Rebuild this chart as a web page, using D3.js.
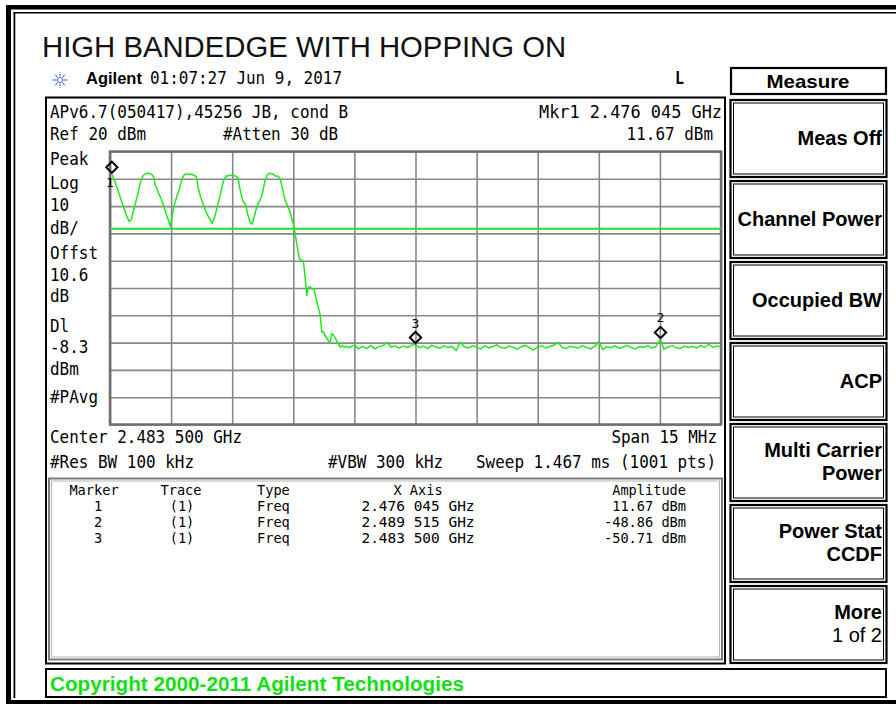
<!DOCTYPE html>
<html>
<head>
<meta charset="utf-8">
<script src="https://cdnjs.cloudflare.com/ajax/libs/d3/7.8.5/d3.min.js"></script>
<style>
  body { margin: 0; background: #fff; }
  svg { display: block; }
</style>
</head>
<body>
<svg></svg>
<script>
// sweep settings
let centerMHz = 2483.5, spanMHz = 15;
let refLevel = 20, dbPerDiv = 10, displayLine = -8.3;

// trace: offset from start frequency (MHz) and level (dBm)
let traceOffsetMHz = [
  0.00, 0.045, 0.12, 0.20, 0.28, 0.36, 0.42, 0.47, 0.52, 0.58, 0.64, 0.70, 0.76, 0.82, 0.88, 0.95,
  1.02, 1.08, 1.11, 1.15, 1.20, 1.26, 1.32, 1.38, 1.44, 1.48, 1.53, 1.58, 1.64, 1.70, 1.76, 1.82,
  1.88, 1.94, 2.00, 2.06, 2.12, 2.16, 2.22, 2.28, 2.34, 2.40, 2.46, 2.51, 2.56, 2.62, 2.68, 2.72,
  2.78, 2.84, 2.92, 3.00, 3.08, 3.14, 3.18, 3.24, 3.28, 3.33, 3.38, 3.44, 3.49, 3.54, 3.60, 3.64,
  3.68, 3.74, 3.80, 3.86, 3.92, 4.00, 4.06, 4.12, 4.18, 4.24, 4.30, 4.36, 4.42, 4.47, 4.50, 4.54,
  4.57, 4.60, 4.65, 4.70, 4.75, 4.79, 4.83, 4.87, 4.91, 4.95, 5.01, 5.07, 5.12, 5.16, 5.20, 5.24,
  5.28, 5.34, 5.40, 5.44, 5.48, 5.52, 5.57, 5.61, 5.65, 5.70, 5.75, 5.80, 5.85, 5.90, 5.96, 6.02,
  6.10, 6.2, 6.3, 6.4, 6.5, 6.6, 6.7, 6.8, 6.9, 7.0, 7.1, 7.2, 7.3, 7.4, 7.5, 7.6,
  7.7, 7.8, 7.9, 8.0, 8.1, 8.2, 8.3, 8.4, 8.5, 8.6, 8.7, 8.8, 8.9, 9.0, 9.1, 9.2,
  9.3, 9.4, 9.5, 9.6, 9.7, 9.8, 9.9, 10.0, 10.1, 10.2, 10.3, 10.4, 10.5, 10.6, 10.7, 10.8,
  10.9, 11.0, 11.1, 11.2, 11.3, 11.4, 11.5, 11.6, 11.7, 11.8, 11.9, 12.0, 12.1, 12.2, 12.3, 12.4,
  12.5, 12.6, 12.7, 12.8, 12.9, 13.0, 13.1, 13.2, 13.3, 13.4, 13.515, 13.6, 13.7, 13.8, 13.9, 14.0,
  14.1, 14.2, 14.3, 14.4, 14.5, 14.6, 14.7, 14.8, 14.9, 15.0
];
let traceDbm = [
  12.4, 11.67, 9.0, 5.5, 2.0, -1.5, -4.0, -5.6, -5.0, -1.5, 2.0, 5.5, 9.5, 11.3, 11.9, 12.0,
  11.7, 10.5, 7.5, 6.5, 4.5, 2.5, 0.0, -3.0, -5.5, -7.5, -3.5, 0.5, 3.5, 6.0, 9.5, 11.4,
  11.9, 11.6, 11.7, 11.3, 10.8, 7.0, 3.5, 1.0, -1.5, -3.5, -5.0, -6.4, -4.5, -1.0, 2.5, 5.0,
  9.0, 10.9, 11.2, 11.3, 11.0, 10.4, 7.0, 3.0, 1.5, 0.5, -3.0, -6.0, -6.6, -4.0, -0.5, 1.0,
  2.0, 4.5, 9.0, 11.5, 12.0, 11.8, 11.0, 11.0, 10.0, 6.0, 2.1, 0.0, -2.2, -5.0, -6.5, -9.6,
  -12.5, -15.1, -19.3, -19.6, -20.4, -26.0, -32.7, -29.7, -29.5, -30.3, -30.4, -34.6, -37.5, -40.0, -46.2, -46.0,
  -47.4, -48.8, -50.4, -46.8, -47.2, -48.0, -49.5, -50.4, -51.6, -51.2, -51.7, -51.4, -51.9, -51.5, -51.2, -51.0,
  -52.3, -51.4, -52.2, -51.0, -52.3, -51.5, -51.1, -49.9, -51.7, -51.2, -52.0, -51.3, -51.8, -51.0, -50.71, -51.9,
  -51.3, -52.2, -51.0, -51.6, -52.1, -51.2, -51.8, -51.4, -52.9, -49.8, -51.5, -52.0, -51.1, -51.7, -52.3, -51.2,
  -51.9, -51.4, -50.8, -51.8, -52.1, -51.3, -51.7, -52.4, -51.5, -51.0, -51.9, -52.7, -51.6, -51.2, -52.0, -51.4,
  -50.9, -49.9, -51.8, -52.2, -51.3, -51.7, -52.0, -51.1, -51.8, -52.3, -51.4, -49.7, -52.6, -51.5, -51.9, -51.2,
  -52.1, -51.6, -51.0, -51.9, -52.3, -51.4, -51.8, -51.1, -52.0, -51.5, -48.86, -52.4, -51.6, -51.1, -51.9, -52.2,
  -51.3, -51.8, -51.4, -52.0, -51.0, -51.7, -50.6, -51.8, -51.2, -51.6
];

// markers
let markerNames = ['1', '2', '3'];
let markerFreqGHz = [2.476045, 2.489515, 2.483500];
let markerAmp = [11.67, -48.86, -50.71];
let markerTrace = ['(1)', '(1)', '(1)'];
let markerType = ['Freq', 'Freq', 'Freq'];
let markerXText = ['2.476 045 GHz', '2.489 515 GHz', '2.483 500 GHz'];
let markerAmpText = ['11.67 dBm', '-48.86 dBm', '-50.71 dBm'];

let leftLabels = ['Peak', 'Log', '10', 'dB/', 'Offst', '10.6', 'dB', 'Dl', '-8.3', 'dBm', '#PAvg'];
let softkeys = [['Meas Off'], ['Channel Power'], ['Occupied BW'], ['ACP'],
                ['Multi Carrier', 'Power'], ['Power Stat', 'CCDF'], ['More', '1 of 2']];

let width = 896, height = 704;
let mono = "'DejaVu Sans Mono', 'Liberation Mono', monospace";
let sans = "'Liberation Sans', Arial, sans-serif";

let svg = d3.select('svg')
              .attr('width', width)
              .attr('height', height);

// the analyzer font is tall and narrow: big mono glyphs squeezed to a fixed pitch
function label(g, str, x, y, o) {
  o = o || {};
  let t = g.append('text')
            .attr('x', x)
            .attr('y', y)
            .attr('font-family', o.family || mono)
            .attr('font-size', o.size || 17.5)
            .attr('font-weight', o.weight || 'normal')
            .attr('fill', o.fill || '#000')
            .attr('text-anchor', o.anchor || 'start')
            .text(str);
  let len = o.len || (o.cw ? o.cw * str.length : (!o.family && !o.size ? 9.6 * str.length : 0));
  if (len) t.attr('textLength', len).attr('lengthAdjust', 'spacingAndGlyphs');
  return t;
}

// outer frame
let frame = svg.append('g');
frame.append('rect').attr('x', 6).attr('y', 5).attr('width', 5).attr('height', height - 5);
frame.append('rect').attr('x', 6).attr('y', 5).attr('width', width).attr('height', 4.5);
frame.append('rect').attr('x', 6).attr('y', 700).attr('width', width).attr('height', 4);
frame.append('rect').attr('x', 13.5).attr('y', 12).attr('width', 1.8).attr('height', 686);
frame.append('rect').attr('x', 13.5).attr('y', 12).attr('width', width).attr('height', 1.5);

// title and header line
label(svg, 'HIGH BANDEDGE WITH HOPPING ON', 42, 57, {family: sans, size: 29.3, fill: '#111'});

let star = svg.append('g').attr('transform', 'translate(60,80)');
d3.range(8).forEach(i => {
  let a = i * Math.PI / 4;
  star.append('line')
      .attr('x1', 2 * Math.cos(a)).attr('y1', 2 * Math.sin(a))
      .attr('x2', 7.5 * Math.cos(a)).attr('y2', 7.5 * Math.sin(a))
      .attr('stroke', '#2b4fd8')
      .attr('stroke-width', 1.3)
      .attr('stroke-dasharray', '1.5,1');
});
label(svg, 'Agilent', 86, 84, {family: sans, size: 16.5, weight: 'bold'});
label(svg, '01:07:27  Jun 9, 2017', 150, 84, {len: 192});
label(svg, 'L', 675, 84, {weight: 'bold', len: 9});

// screen box
svg.append('rect')
    .attr('x', 46).attr('y', 97.5)
    .attr('width', 679).attr('height', 566)
    .attr('fill', 'none')
    .attr('stroke', '#000')
    .attr('stroke-width', 2);

label(svg, 'APv6.7(050417),45256 JB, cond B', 50, 118, {len: 298});
label(svg, 'Mkr1  2.476 045 GHz', 722, 118, {anchor: 'end', len: 183});
label(svg, 'Ref 20 dBm', 50, 140);
label(svg, '#Atten 30 dB', 223, 140);
label(svg, '11.67 dBm', 713, 140, {anchor: 'end'});

let leftY = [165, 189, 211, 234, 259, 281, 302, 332, 353, 375, 403];
leftLabels.forEach((s, i) => label(svg, s, 50, leftY[i]));

// graticule
let startMHz = centerMHz - spanMHz / 2, stopMHz = centerMHz + spanMHz / 2;
let x = d3.scaleLinear().domain([startMHz, stopMHz]).range([110, 721]);
let y = d3.scaleLinear().domain([refLevel - 10 * dbPerDiv, refLevel]).range([424.5, 151.5]);
let xDivs = d3.range(11).map(i => startMHz + i * spanMHz / 10);
let yDivs = d3.range(11).map(i => refLevel - i * dbPerDiv);
let gh = y.range()[0] - y.range()[1], gw = x.range()[1] - x.range()[0];

let grid = svg.append('g');
grid.append('g')
    .attr('transform', `translate(0,${y.range()[0]})`)
    .call(d3.axisBottom(x).tickValues(xDivs).tickSize(-gh).tickFormat(''))
    .call(g => g.select('.domain').remove())
    .selectAll('line')
      .attr('stroke', '#888')
      .attr('stroke-width', 1.6);
grid.append('g')
    .attr('transform', `translate(${x.range()[0]},0)`)
    .call(d3.axisLeft(y).tickValues(yDivs).tickSize(-gw).tickFormat(''))
    .call(g => g.select('.domain').remove())
    .selectAll('line')
      .attr('stroke', '#888')
      .attr('stroke-width', 1.6);
grid.append('rect')
    .attr('x', x.range()[0]).attr('y', y.range()[1])
    .attr('width', gw).attr('height', gh)
    .attr('fill', 'none')
    .attr('stroke', '#6e6e6e')
    .attr('stroke-width', 2.5);

svg.append('clipPath').attr('id', 'clip')
    .append('rect')
      .attr('x', x.range()[0]).attr('y', y.range()[1] - 2)
      .attr('width', gw).attr('height', gh + 2);

// display line
svg.append('line')
    .attr('x1', x(startMHz)).attr('x2', x(stopMHz))
    .attr('y1', y(displayLine)).attr('y2', y(displayLine))
    .attr('stroke', '#2fd82f')
    .attr('stroke-width', 2);

// trace
let line = d3.line()
              .x(d => x(startMHz + d[0]))
              .y(d => y(d[1]));
svg.append('path')
    .datum(d3.zip(traceOffsetMHz, traceDbm))
    .attr('clip-path', 'url(#clip)')
    .attr('d', line)
    .attr('fill', 'none')
    .attr('stroke', '#1ee81e')
    .attr('stroke-width', 1.5)
    .attr('stroke-linejoin', 'round');

// markers
let markers = svg.append('g');
markerNames.forEach((m, i) => {
  let cx = x(markerFreqGHz[i] * 1000), cy = y(markerAmp[i]) - 7;
  markers.append('path')
      .attr('d', d3.symbol(d3.symbolSquare, 64)())
      .attr('transform', `translate(${cx},${cy}) rotate(45)`)
      .attr('fill', 'none')
      .attr('stroke', '#000')
      .attr('stroke-width', 2);
  let below = cy < y(refLevel) + 30;
  label(markers, m, below ? cx - 2 : cx, below ? cy + 20 : cy - 10, {size: 13, anchor: 'middle'});
});

// sweep info
label(svg, 'Center 2.483 500 GHz', 50, 443);
label(svg, 'Span 15 MHz', 717, 443, {anchor: 'end'});
label(svg, '#Res BW 100 kHz', 50, 468);
label(svg, '#VBW 300 kHz', 328, 468);
label(svg, 'Sweep 1.467 ms (1001 pts)', 716, 468, {anchor: 'end'});

// marker table
let table = svg.append('g');
table.append('rect')
    .attr('x', 49).attr('y', 478.5).attr('width', 673).attr('height', 181)
    .attr('fill', 'none').attr('stroke', '#7a7a7a').attr('stroke-width', 2);
table.append('rect')
    .attr('x', 51.5).attr('y', 481).attr('width', 668).attr('height', 176)
    .attr('fill', 'none').attr('stroke', '#b4b4b4').attr('stroke-width', 1);

let tf = {size: 14.5, cw: 8.2};
label(table, 'Marker', 94, 495, Object.assign({anchor: 'middle'}, tf));
label(table, 'Trace', 181, 495, Object.assign({anchor: 'middle'}, tf));
label(table, 'Type', 257, 495, tf);
label(table, 'X Axis', 418, 495, Object.assign({anchor: 'middle'}, tf));
label(table, 'Amplitude', 686, 495, Object.assign({anchor: 'end'}, tf));
markerNames.forEach((m, i) => {
  let ty = 511 + i * 16;
  label(table, m, 98, ty, Object.assign({anchor: 'middle'}, tf));
  label(table, markerTrace[i], 182, ty, Object.assign({anchor: 'middle'}, tf));
  label(table, markerType[i], 257, ty, tf);
  label(table, markerXText[i], 418, ty, Object.assign({anchor: 'middle'}, tf, {cw: 8.7}));
  label(table, markerAmpText[i], 686, ty, Object.assign({anchor: 'end'}, tf));
});

// softkeys
let keys = svg.append('g');
function keyBox(kx, ky, kw, kh) {
  keys.append('rect')
      .attr('x', kx).attr('y', ky).attr('width', kw).attr('height', kh)
      .attr('fill', '#fff').attr('stroke', '#000').attr('stroke-width', 2.2);
  keys.append('rect')
      .attr('x', kx + 3).attr('y', ky + 3).attr('width', kw - 6).attr('height', kh - 6)
      .attr('fill', 'none').attr('stroke', '#000').attr('stroke-width', 1);
}
keys.append('rect')
    .attr('x', 731).attr('y', 68).attr('width', 155).attr('height', 26)
    .attr('fill', '#fff').attr('stroke', '#000').attr('stroke-width', 2.2);
label(keys, 'Measure', 808, 88, {family: sans, size: 19, weight: 'bold', anchor: 'middle', len: 83});

softkeys.forEach((k, i) => {
  let ky = 100 + i * 81;
  keyBox(730.5, ky, 156, 77);
  if (k.length === 1) {
    label(keys, k[0], 882, ky + 45, {family: sans, size: 20, weight: 'bold', anchor: 'end'});
  } else {
    label(keys, k[0], 882, ky + 33, {family: sans, size: 20, weight: 'bold', anchor: 'end'});
    let second = k[1] === '1 of 2';
    label(keys, k[1], 882, ky + 56, {family: sans, size: 20, weight: second ? 'normal' : 'bold', anchor: 'end'});
  }
});

// status bar
svg.append('rect')
    .attr('x', 46).attr('y', 669).attr('width', 840).attr('height', 28)
    .attr('fill', '#fff').attr('stroke', '#000').attr('stroke-width', 2);
label(svg, 'Copyright 2000-2011 Agilent Technologies', 50, 691,
      {family: sans, size: 20, weight: 'bold', fill: '#12e012', len: 414});
</script>
</body>
</html>
